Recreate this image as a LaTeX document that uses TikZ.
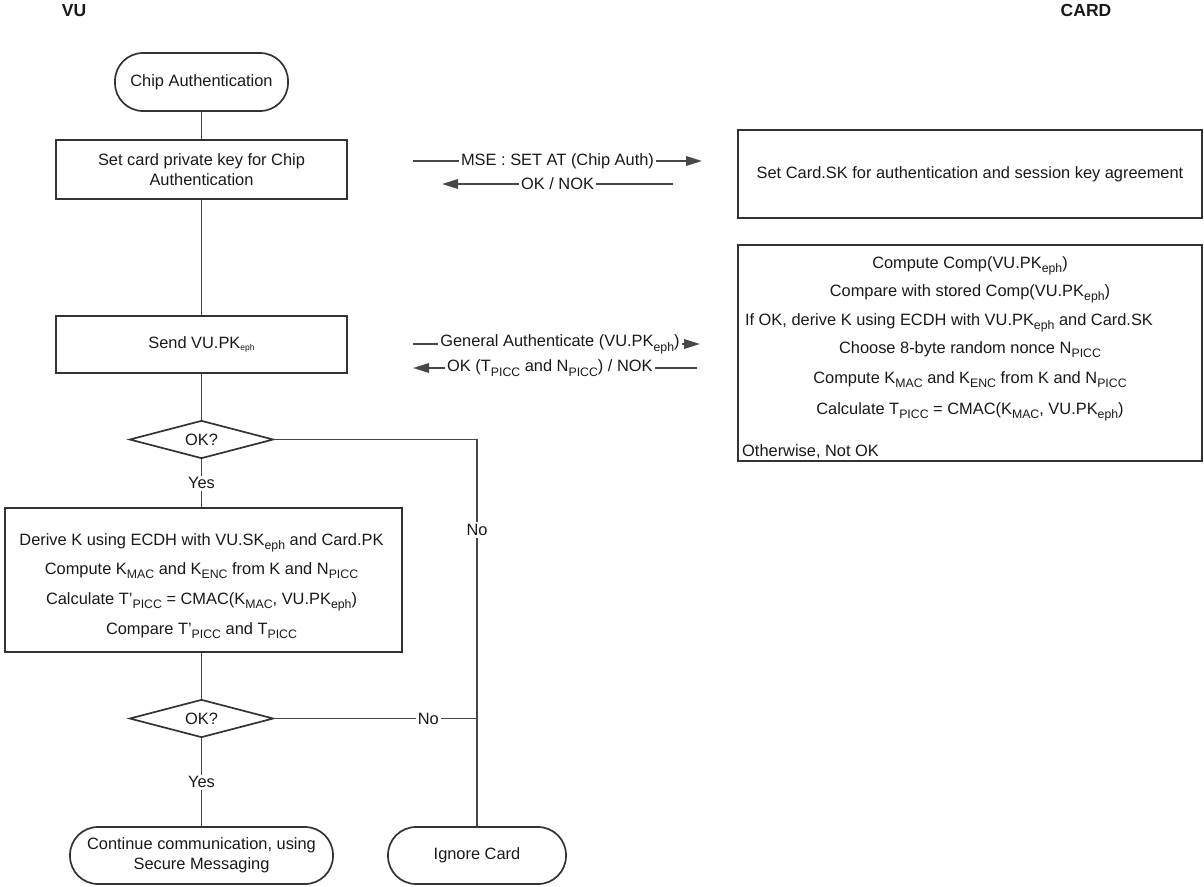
\documentclass[tikz,border=0pt]{standalone}
\usepackage{fontspec}
\setmainfont{Liberation Sans}
\usetikzlibrary{shapes.geometric,arrows.meta}
\newcommand{\diagfont}{\fontsize{16.4}{20}\selectfont}
\newcommand{\sbs}[1]{\raisebox{-0.3em}{\fontsize{12.3}{12.3}\selectfont #1}}
\newcommand{\tinysb}[1]{\raisebox{-0.12em}{\fontsize{8.5}{8.5}\selectfont #1}}
\tikzset{
  box/.style={draw=black!80, line width=1.7pt, rectangle, inner sep=0pt, font=\diagfont, text=black!90, align=center},
  term/.style={box, rounded corners=28pt},
  dec/.style={draw=black!80, line width=1.7pt, shape=diamond, aspect=3.8, inner sep=0pt, minimum width=144pt, minimum height=38pt, font=\diagfont, text=black!90},
  conn/.style={draw=black!72, line width=1.9pt},
  msg/.style={conn, -{Triangle[length=16pt,width=9.5pt]}},
  lbl/.style={fill=white, inner sep=2pt, font=\diagfont, text=black!90},
  txt/.style={font=\diagfont, text=black!90, inner sep=0pt, anchor=base},
  hdr/.style={font=\bfseries\fontsize{17.5}{18}\selectfont, text=black!90, inner sep=0pt}
}
\begin{document}
\begin{tikzpicture}[x=1pt,y=-1pt]
\useasboundingbox (0,0) rectangle (1204,886);
% headers
\node[hdr] (vu) at (74,10.5) {VU};
\node[hdr] (card) at (1086,10.5) {CARD};
% VU column
\node[term, minimum width=173pt, minimum height=58pt] (start) at (201.5,82) {Chip Authentication};
\node[box, minimum width=291pt, minimum height=59pt] (setkey) at (201.5,169.5) {Set card private key for Chip\\Authentication};
\node[box, minimum width=291pt, minimum height=57pt] (send) at (201.5,344.5) {Send VU.PK\tinysb{eph}};
\node[dec] (ok1) at (201.5,439.5) {OK?};
\node[box, minimum width=397pt, minimum height=144pt] (derive) at (203.5,580) {};
\node[txt] (d1) at (201.5,545) {Derive K using ECDH with VU.SK\sbs{eph} and Card.PK};
\node[txt] (d2) at (201.5,574) {Compute K\sbs{MAC} and K\sbs{ENC} from K and N\sbs{PICC}};
\node[txt] (d3) at (201.5,604) {Calculate T'\sbs{PICC} = CMAC(K\sbs{MAC}, VU.PK\sbs{eph})};
\node[txt] (d4) at (201.5,634) {Compare T'\sbs{PICC} and T\sbs{PICC}};
\node[dec] (ok2) at (201.5,718.5) {OK?};
\node[term, minimum width=263pt, minimum height=57pt] (cont) at (201.5,855.5) {Continue communication, using\\Secure Messaging};
\node[term, minimum width=178pt, minimum height=57pt] (ign) at (477,855.5) {Ignore Card};
% CARD column
\node[box, minimum width=464pt, minimum height=88pt] (c1) at (970,174) {Set Card.SK for authentication and session key agreement};
\node[box, minimum width=464pt, minimum height=216pt] (c2) at (970,353) {};
\node[txt] (c2a) at (970,268) {Compute Comp(VU.PK\sbs{eph})};
\node[txt] (c2b) at (970,296) {Compare with stored Comp(VU.PK\sbs{eph})};
\node[txt] (c2c) at (949,325) {If OK, derive K using ECDH with VU.PK\sbs{eph} and Card.SK};
\node[txt] (c2d) at (970,353) {Choose 8-byte random nonce N\sbs{PICC}};
\node[txt] (c2e) at (970,383) {Compute K\sbs{MAC} and K\sbs{ENC} from K and N\sbs{PICC}};
\node[txt] (c2f) at (970,414) {Calculate T\sbs{PICC} = CMAC(K\sbs{MAC}, VU.PK\sbs{eph})};
\node[txt, anchor=base west] (c2g) at (742,456) {Otherwise, Not OK};
% connectors
\draw[conn] (start) -- (setkey);
\draw[conn] (setkey) -- (send);
\draw[conn] (send) -- (ok1);
\draw[conn] (ok1.south) -- node[lbl]{Yes} (ok1.south |- derive.north);
\draw[conn] (ok1.south |- derive.south) -- (ok2.north);
\draw[conn] (ok2.south) -- node[lbl]{Yes} (cont.north);
\draw[conn] (ok1.east) -- (ok1.east -| ign.north) -- node[lbl, pos=0.234]{No} (ign.north);
\draw[conn] (ok2.east) -- node[lbl, pos=0.76]{No} (ok2.east -| ign.north);
% messages
\coordinate (m1a) at (413,161);
\coordinate (m1b) at (702,161);
\coordinate (m2a) at (673,184);
\coordinate (m2b) at (442,184);
\coordinate (m3a) at (413,344);
\coordinate (m3b) at (700,344);
\coordinate (m4a) at (697,368);
\coordinate (m4b) at (413,368);
\draw[msg] (m1a) -- node[lbl]{MSE : SET AT (Chip Auth)} (m1b);
\draw[msg] (m2a) -- node[lbl]{OK / NOK} (m2b);
\draw[msg] (m3a) -- node[lbl, pos=0.512]{General Authenticate (VU.PK\sbs{eph})} (m3b);
\draw[msg] (m4a) -- node[lbl, pos=0.518]{OK (T\sbs{PICC} and N\sbs{PICC}) / NOK} (m4b);
\end{tikzpicture}
\end{document}
